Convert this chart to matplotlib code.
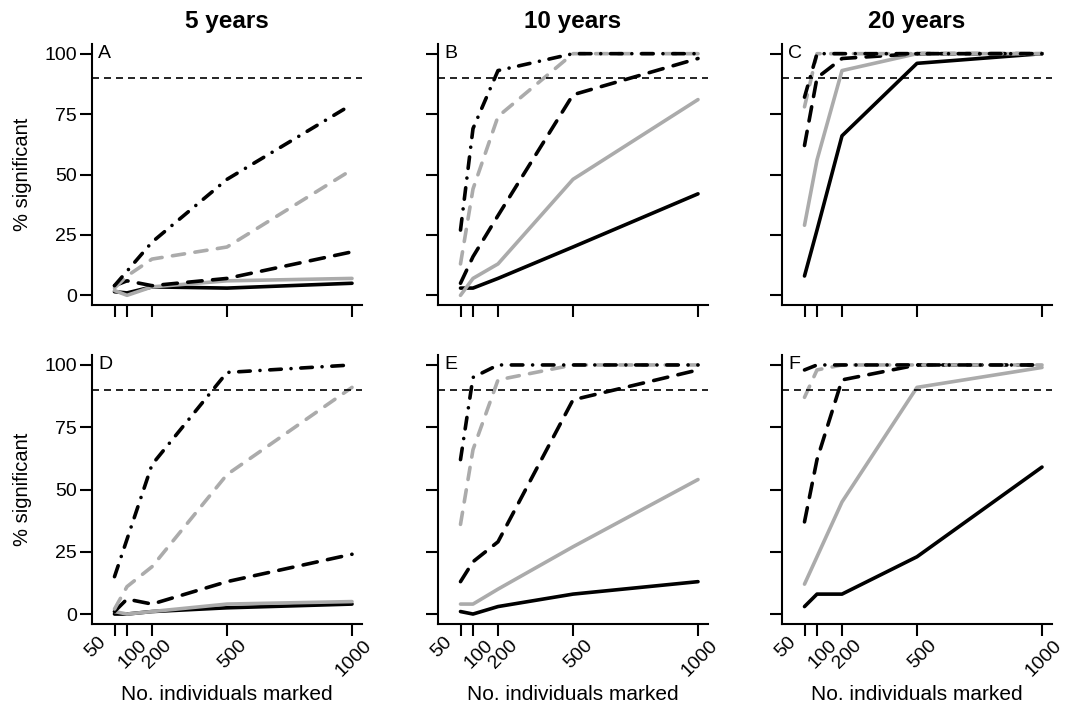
import matplotlib
matplotlib.use("Agg")
import matplotlib.pyplot as plt
from matplotlib.transforms import ScaledTranslation, blended_transform_factory

plt.rcParams["font.family"] = ["Liberation Sans", "DejaVu Sans"]

n_marked = [50, 100, 200, 500, 1000]
x_tick_labels = ["50", "100", "200", "500", "1000"]
y_ticks = [0, 25, 50, 75, 100]
column_titles = ["5 years", "10 years", "20 years"]
panel_letters = ["A", "B", "C", "D", "E", "F"]
power_threshold = 90

# % significant per panel, series order:
# black solid, grey solid, black dashed, grey dashed, black dot-dash
panel_a = [
    [1.5, 1, 3.5, 3, 5],
    [2, 0, 3.5, 6, 7],
    [4, 6, 4, 7, 18],
    [3, 8, 15, 20, 52],
    [4, 10, 22, 48, 79],
]
panel_b = [
    [3, 3, 7, 20, 42],
    [0, 7, 13, 48, 81],
    [5, 16, 33, 83, 98],
    [13, 44, 74, 100, 100],
    [27, 69, 93, 100, 100],
]
panel_c = [
    [8, 27, 66, 96, 100],
    [29, 56, 93, 100, 100],
    [62, 90, 98, 100, 100],
    [78, 100, 100, 100, 100],
    [82, 100, 100, 100, 100],
]
panel_d = [
    [0, 0, 1, 2.5, 4],
    [1, 0, 1, 4, 5],
    [1, 6, 4, 13, 24],
    [2, 11, 19, 56, 91],
    [15, 30, 60, 97, 100],
]
panel_e = [
    [1, 0, 3, 8, 13],
    [4, 4, 10, 27, 54],
    [13, 21, 29, 86, 98],
    [36, 66, 94, 100, 100],
    [62, 95, 100, 100, 100],
]
panel_f = [
    [3, 8, 8, 23, 59],
    [12, 23, 45, 91, 99],
    [37, 62, 94, 100, 100],
    [87, 98, 100, 100, 100],
    [98, 100, 100, 100, 100],
]
panels = [panel_a, panel_b, panel_c, panel_d, panel_e, panel_f]

GREY = "#ABABAB"
# dash lengths are in linewidth units; round caps add one unit to each dash
LINE_STYLES = [
    dict(color="black", linestyle="-"),
    dict(color=GREY, linestyle="-"),
    dict(color="black", linestyle=(0, (4.0, 2.9))),
    dict(color=GREY, linestyle=(0, (3.4, 2.9))),
    dict(color="black", linestyle=(0, (3.2, 2.7, 0.01, 2.7))),
]

W, H = 1066, 708
fig = plt.figure(figsize=(W / 100, H / 100), dpi=100)

col_left = [92, 438, 782]
col_width = 270
row_top = [44, 355]
row_bottom = [305, 624]

# offset (px) of each rotated x label's anchor from its tick on the axis line;
# the "50" label is pulled left so it clears "100"
label_dx = [-17, 11, 11, 11, 11]
label_dy = [9, 13, 13, 13, 13]

for idx, series in enumerate(panels):
    row, col = divmod(idx, 3)
    left = col_left[col] / W
    bottom = 1 - row_bottom[row] / H
    height = (row_bottom[row] - row_top[row]) / H
    ax = fig.add_axes([left, bottom, col_width / W, height])

    for values, style in zip(series, LINE_STYLES):
        ax.plot(n_marked, values, linewidth=2.6, dash_capstyle="round",
                solid_capstyle="round", solid_joinstyle="round", **style)
    ax.axhline(power_threshold, color="black", linewidth=1.2,
               linestyle=(0, (4.2, 3.0)))

    ax.set_xlim(-40, 1040)
    ax.set_ylim(-4, 104)
    ax.set_xticks(n_marked)
    ax.set_yticks(y_ticks)
    for side in ("top", "right"):
        ax.spines[side].set_visible(False)
    for side in ("left", "bottom"):
        ax.spines[side].set_linewidth(1.5)
    ax.tick_params(axis="both", direction="out", length=8.6, width=1.5,
                   labelsize=14, pad=2.2)
    ax.tick_params(axis="x", labelbottom=False)
    if col > 0:
        ax.tick_params(axis="y", labelleft=False)

    letter_tf = blended_transform_factory(ax.transAxes, ax.transData)
    ax.text(0.022, 100, panel_letters[idx], transform=letter_tf,
            ha="left", va="center", fontsize=14)

    if row == 1:
        base = ax.get_xaxis_transform()
        for x, lab, dx, dy in zip(n_marked, x_tick_labels, label_dx, label_dy):
            tf = base + ScaledTranslation(dx / 100, -dy / 100, fig.dpi_scale_trans)
            ax.text(x, 0, lab, transform=tf, rotation=45, rotation_mode="anchor",
                    ha="right", va="top", fontsize=14, clip_on=False)
        fig.text((col_left[col] + col_width / 2) / W, 1 - 700 / H,
                 "No. individuals marked", ha="center", va="baseline",
                 fontsize=15)

    if row == 0:
        fig.text((col_left[col] + col_width / 2) / W, 1 - 28 / H,
                 column_titles[col], ha="center", va="baseline",
                 fontsize=17.5, fontweight="bold")

    if col == 0:
        fig.text(23 / W, 1 - (row_top[row] + row_bottom[row]) / 2 / H,
                 "% significant", rotation=90, ha="center", va="center",
                 fontsize=14.5)

fig.savefig("out.png", dpi=100)
